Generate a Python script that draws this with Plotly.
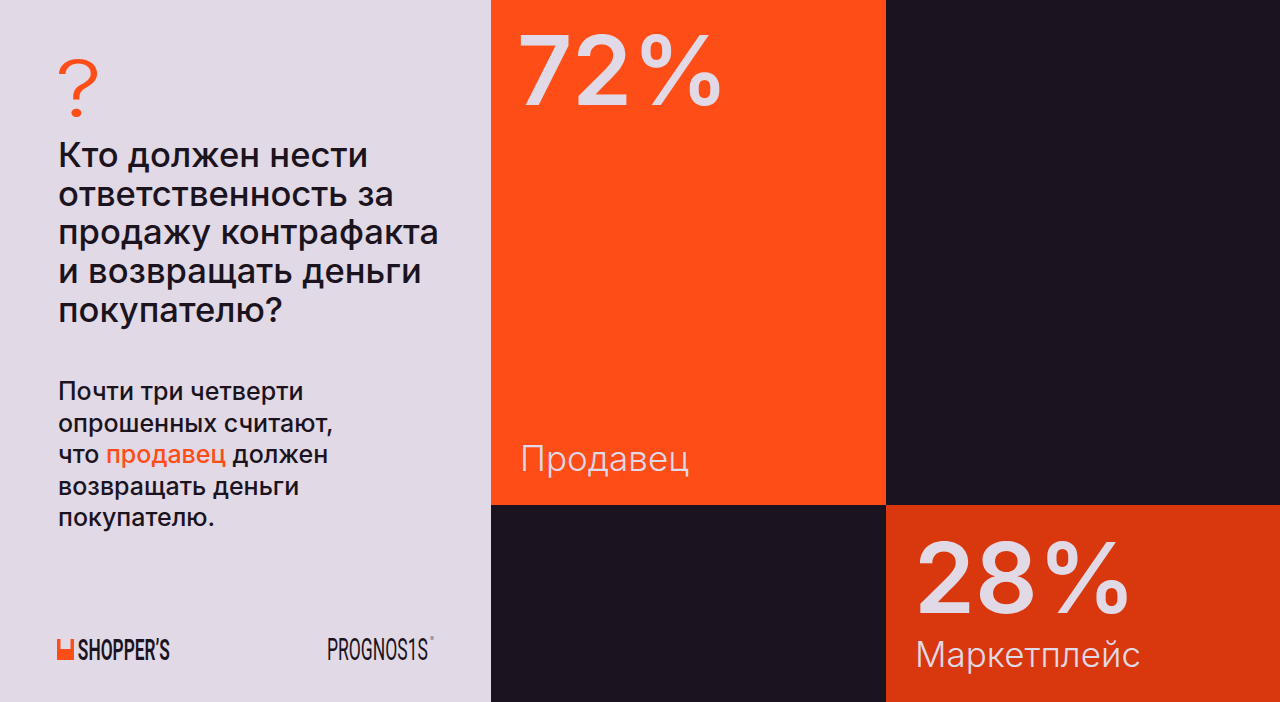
import plotly.graph_objects as go

# two answers, box heights follow the shares
labels = ['Продавец', 'Маркетплейс']
shares = [72, 28]
pct_labels = ['72%', '28%']
colors = ['#FF4D17', '#D9380E']

question = ['Кто должен нести', 'ответственность за', 'продажу контрафакта', 'и возвращать деньги', 'покупателю?']
body = ['Почти три четверти', 'опрошенных считают,',
        "что <span style='color:#FF4D17'>продавец</span> должен",
        'возвращать деньги', 'покупателю.']
logos = ["SHOPPER’S", 'PROGNOS1S']

W, H = 1280, 702
left = 491
INK = '#1B141F'
PALE = '#E1D9E5'

fig = go.Figure()

fig.add_trace(go.Bar(x=labels, y=shares, base=[0, shares[0]], marker_color=colors,
                     marker_line_width=0, hoverinfo='skip'))

fig.update_xaxes(range=[-0.5, 1.5], visible=False, domain=[left / W, 1])
fig.update_yaxes(range=[100, 0], visible=False)

def txt(x, y, text, size, color=INK, font='Inter', weight=400, anchor='left'):
    fig.add_annotation(xref='paper', yref='paper', x=x / W, y=1 - y / H, text=text, showarrow=False,
                       xanchor=anchor, yanchor='middle', align=anchor,
                       font=dict(size=size, color=color, family=font, weight=weight))

# big numbers and labels
txt(515, 70.5, pct_labels[0], 96, color=PALE, weight=600)
txt(912, 577, pct_labels[1], 98, color=PALE, weight=600)
txt(518, 458, labels[0], 35, color=PALE, weight=300)
txt(913, 654, labels[1], 35, color=PALE, weight=300)

# left panel text
txt(78, 88, '?', 78, color=colors[0], weight=300, anchor='center')
for i, line in enumerate(question):
    txt(56, 154 + i * 38.7, line, 34.6, weight=500)
for i, line in enumerate(body):
    txt(56, 391 + i * 31.5, line, 25, weight=500)

# logos, squeezed to condensed width in the post script
txt(124, 649, logos[0], 30, font='Roboto', weight=600, anchor='center')
txt(377, 649, logos[1], 31, font='Roboto', weight=400, anchor='center')
txt(428, 638, '®', 6, color='#6E6874')

fig.add_shape(type='rect', xref='paper', yref='paper', x0=57 / W, x1=74 / W, y0=1 - 660 / H, y1=1 - 639 / H,
              fillcolor=colors[0], line_width=0)
fig.add_shape(type='rect', xref='paper', yref='paper', x0=60.5 / W, x1=70.5 / W, y0=1 - 649 / H, y1=1 - 639 / H,
              fillcolor=PALE, line_width=0)

fig.add_shape(type='rect', xref='paper', yref='paper', x0=0, x1=left / W, y0=0, y1=1,
              fillcolor=PALE, line_width=0, layer='below')

fig.update_layout(width=W, height=H, margin=dict(l=0, r=0, t=0, b=0), showlegend=False,
                  plot_bgcolor=INK, paper_bgcolor=INK, bargap=0)

squeeze = """
document.body.style.margin='0';
document.querySelectorAll('.annotation-text').forEach(function(t){
  var widths = {'SHOPPER’S': 92, 'PROGNOS1S': 101, '?': 47};
  var w = widths[t.textContent];
  if (w) { t.setAttribute('textLength', w); t.setAttribute('lengthAdjust', 'spacingAndGlyphs'); }
});
"""
fig.write_html('out.html', post_script=squeeze, config={'displayModeBar': False})
